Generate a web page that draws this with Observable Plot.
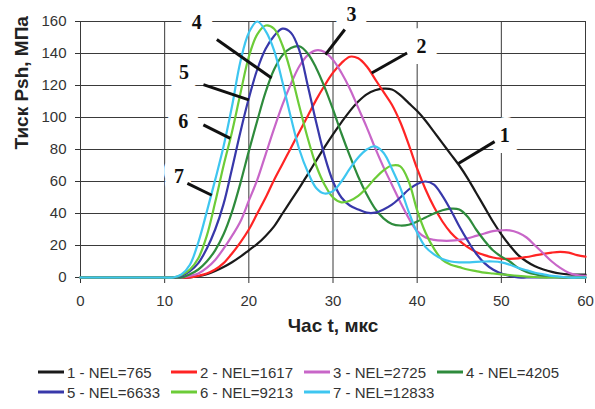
<!DOCTYPE html>
<html><head><meta charset="utf-8">
<script src="https://cdn.jsdelivr.net/npm/d3@7"></script>
<script src="https://cdn.jsdelivr.net/npm/@observablehq/plot@0.6"></script>
<style>
body{margin:0;background:#fff;font-family:"Liberation Sans",Arial,sans-serif;}
#legend{display:grid;grid-template-columns:repeat(4,133px);margin-left:38px;margin-top:17px;}
.item{display:flex;align-items:center;height:20px;font-size:15px;color:#333;white-space:nowrap;}
.item svg{margin-right:3px;flex:none;}
</style></head><body>
<div id="chart"></div><div id="legend"></div>
<script>
const times = [0,10,11,12,13,14,15,16,17,18,19,20,21,22,23,24,25,26,27,28,29,30,31,32,33,34,35,36,37,38,39,40,41,42,43,44,45,46,47,48,49,50,51,52,53,54,55,56,57,58,59,60];

const s1 = [0, 0,0,0,0,0.8,2,4,6.5,9.5,13, 17,21,26,32,40,48,56,64.5,73,81.5, 89.5,97,104,110,114.5,117,118,117.5,114,109, 104,98,91,84,77,70,62,53,44,35, 27,20,14,10,7,5,3.5,2.5,2,1.8, 1.8];
const s2 = [0, 0,0,0,0,1,2.5,5,9,15,22, 30,40,50,61,71,81,91,101,111,120, 128,134,138,137,132,124,116,108,97,83, 68,55,44,35,28,23,19,16,14,12.5, 11.8,11.7,12,12.8,13.8,14.8,15.6,16,15.5,14, 13];
const s3 = [0, 0,0,0,1,2.5,6,11,18,26,35, 48,61,77,93,108,121,132,139,142,141, 136,128,118,106,94,81,69,58,47,37, 29,25,23.5,23,23,23.5,24.5,26,27.5,29, 29.5,29.5,28,25,20,15,10,6,3,1.5, 1];
const s4 = [0, 0,0,0,2,5,10,17,27,41,59, 79,98,116,130,139,143.5,144.5,140,131,119, 105,90,76,63,52,43,37,33.5,32.5,33, 35,37.5,40,42,43,42.5,38,30,23,17, 13,10,6,3.5,2,1,0.5,0,0,0, 0];
const s5 = [0, 0,0,1,4,9,18,30,46,68,91, 112,130,143,151,155.5,153,142,120,97,76, 60,50,45,42.5,40.5,40.5,42.5,45.5,50,55, 58.5,60,58,51,42,32,23,15,9,5, 2.5,1,0,0,0,0,0,0,0,0, 0];
const s6 = [0, 0,0,1.5,5,12,26,47,70,91,115, 138,152,157.5,155.5,145,128,107,87,70,58, 50,47,48,51,56,62,67,70,69.5,60, 42,28,18,11,8,6.5,5,4,3,2.5, 2,1.5,1,0.5,0.3,0,0,0,0,0, 0];
const s7 = [0, 0,0,2,8,22,41,61,82,107,135, 153,160,154,142,122,100,80,66,56,52.5, 54,60,68,75,80,82,78,68,56,41, 28,19,14.5,11.5,10,9.5,9.5,9.8,10,10, 9.5,8,6,4.5,3,2,1,0.5,0,0, 0];

const seriesNames = ["1 - NEL=765","2 - NEL=1617","3 - NEL=2725","4 - NEL=4205","5 - NEL=6633","6 - NEL=9213","7 - NEL=12833"];
const seriesColors = ["#1a1a1a","#ff2424","#c866c8","#2e8b3c","#3838aa","#6ccc38","#3ec6f0"];
const seriesValues = [s1,s2,s3,s4,s5,s6,s7];

const xTicks = [0,10,20,30,40,50,60];
const yTicks = [0,20,40,60,80,100,120,140,160];

const labelText = ["1","2","3","4","5","6","7"];
const labelT = [50.4, 40.5, 32.2, 13.8, 12.3, 12.2, 11.7];
const labelP = [89, 144.5, 164.4, 159.2, 127.8, 97.4, 62.9];
const leadT1 = [49.2, 38.8, 31.4, 16.2, 14.6, 14.6, 12.7];
const leadP1 = [84.9, 140.3, 155, 148.7, 120.5, 95.4, 58.8];
const leadT2 = [44.9, 34.6, 29.1, 22.7, 20.0, 17.8, 15.6];
const leadP2 = [71.3, 127.8, 139.3, 124.7, 111, 87, 51.4];

const xLabel = "Час t, мкс";
const yLabel = "Тиск Psh, МПа";

const data = [];
seriesValues.forEach((vals, i) => vals.forEach((v, j) => data.push({t: times[j], p: v, s: seriesNames[i]})));
const labels = labelText.map((d, i) => ({text: d, t: labelT[i], p: labelP[i]}));
const leaders = labelText.map((d, i) => ({t1: leadT1[i], p1: leadP1[i], t2: leadT2[i], p2: leadP2[i]}));

const serif = "Liberation Serif, Times New Roman, serif";
const sans = "Liberation Sans, Arial, sans-serif";

const chart = Plot.plot({
  width: 595, height: 345,
  marginTop: 21, marginBottom: 68, marginLeft: 80, marginRight: 10,
  x: {domain: [0, 60]},
  y: {domain: [0, 160]},
  color: {domain: seriesNames, range: seriesColors},
  style: {fontFamily: sans, fontSize: "15px", color: "#333", background: "white"},
  marks: [
    Plot.gridX(xTicks, {stroke: "#3a3a3a", strokeOpacity: 1, strokeWidth: 1}),
    Plot.gridY(yTicks, {stroke: "#3a3a3a", strokeOpacity: 1, strokeWidth: 1}),
    Plot.axisX({ticks: xTicks, tickSize: 6, tickPadding: 12, label: null, fontSize: 15}),
    Plot.axisY({ticks: yTicks, tickSize: 5, tickPadding: 9, label: null, fontSize: 15}),
    Plot.text(labels, {x: "t", y: "p", text: "text", fill: "white", stroke: "white", strokeWidth: 22, strokeLinejoin: "round", fontSize: 20, fontWeight: "bold", fontFamily: serif}),
    Plot.line(data, {x: "t", y: "p", z: "s", stroke: "s", strokeWidth: 2.2, curve: "catmull-rom"}),
    Plot.link(leaders, {x1: "t1", y1: "p1", x2: "t2", y2: "p2", stroke: "#111", strokeWidth: 3}),
    Plot.text(labels, {x: "t", y: "p", text: "text", fill: "#111", fontSize: 20, fontWeight: "bold", fontFamily: serif}),
    Plot.text([xLabel], {text: d => d, frameAnchor: "bottom", dy: 54, fontSize: 19, fontWeight: "bold", fill: "#222"}),
    Plot.text([yLabel], {text: d => d, frameAnchor: "left", dx: -59, rotate: -90, fontSize: 19, fontWeight: "bold", fill: "#222"})
  ]
});
document.getElementById("chart").appendChild(chart);

const legend = document.getElementById("legend");
seriesNames.forEach((name, i) => {
  const item = document.createElement("div");
  item.className = "item";
  item.innerHTML = `<svg width="26" height="6"><line x1="0" x2="26" y1="3" y2="3" stroke="${seriesColors[i]}" stroke-width="3"/></svg><span>${name}</span>`;
  legend.appendChild(item);
});
</script></body></html>
